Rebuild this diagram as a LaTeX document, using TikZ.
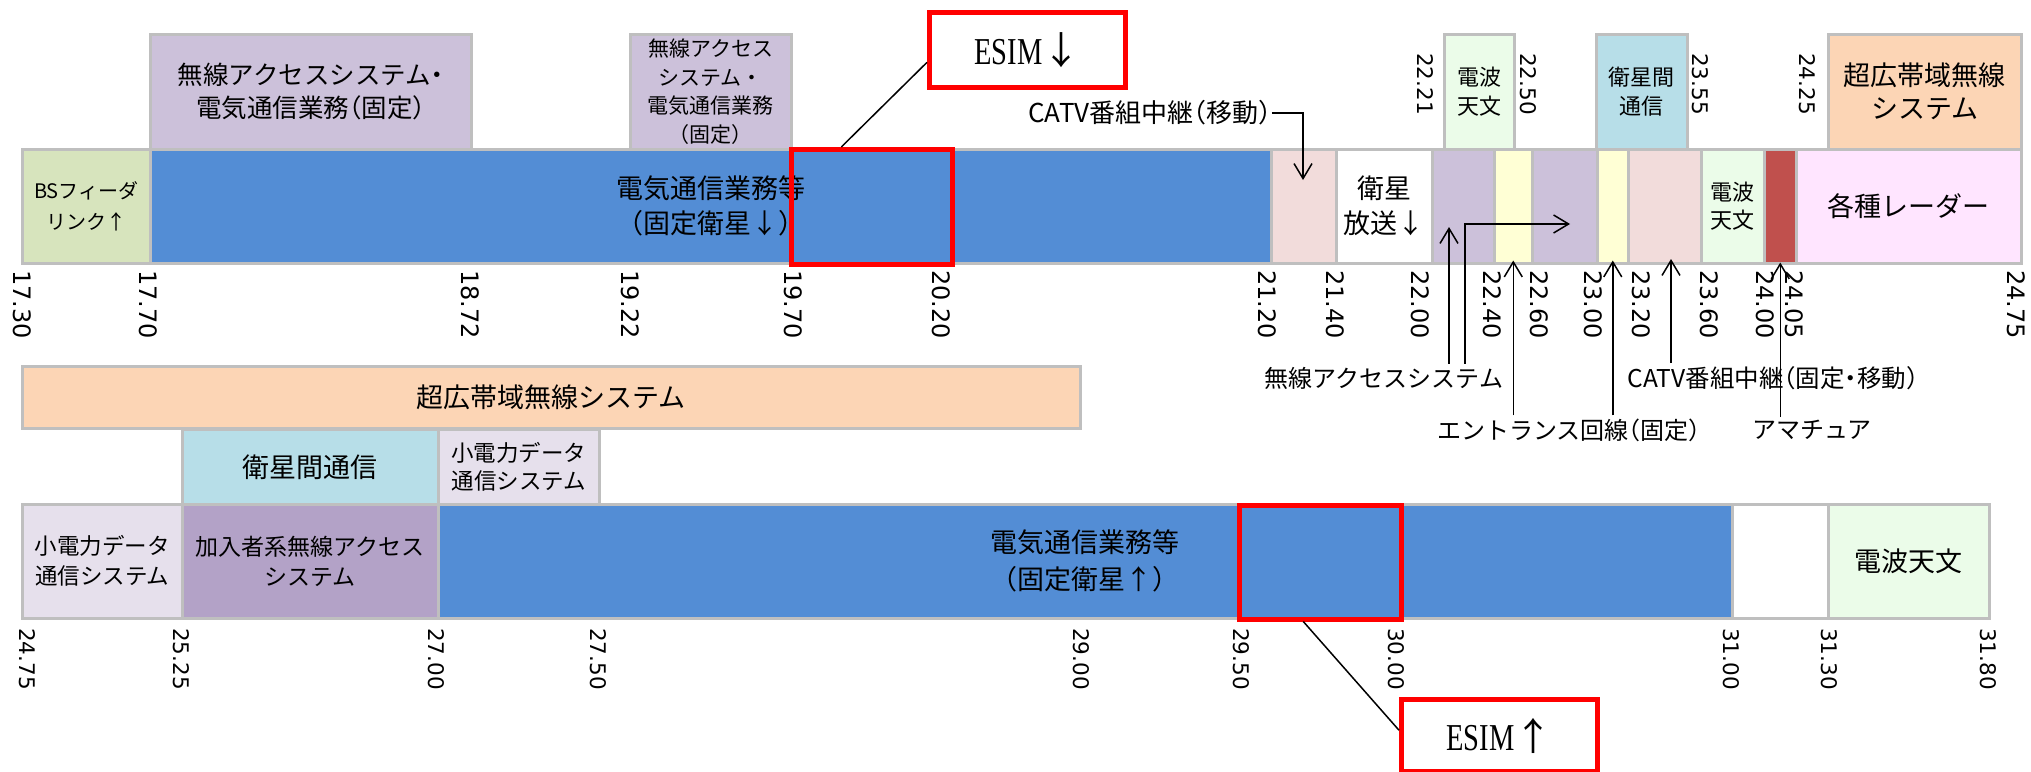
\documentclass[tikz,border=0pt]{standalone}
\usepackage{fontspec}
\setmainfont{Noto Sans CJK JP}
\newfontfamily\notefont[RawFeature=+halt]{Noto Sans CJK JP}
\newfontfamily\numfont{DejaVu Sans}
\newfontfamily\esimfont[FakeStretch=0.75]{Liberation Serif}
\usetikzlibrary{arrows.meta}
\definecolor{bandgray}{RGB}{191,191,191}
\definecolor{bsgreen}{RGB}{215,228,189}
\definecolor{wapurple}{RGB}{204,193,218}
\definecolor{telblue}{RGB}{83,141,213}
\definecolor{catvpink}{RGB}{242,220,219}
\definecolor{entyellow}{RGB}{255,255,213}
\definecolor{rastro}{RGB}{235,252,233}
\definecolor{amred}{RGB}{192,80,77}
\definecolor{radarpink}{RGB}{255,229,255}
\definecolor{islblue}{RGB}{183,222,232}
\definecolor{uwborange}{RGB}{252,213,181}
\definecolor{sdcgray}{RGB}{230,224,236}
\definecolor{fwapurple}{RGB}{179,162,199}
\definecolor{esimred}{RGB}{255,0,0}
\tikzstyle{band} = [draw=bandgray, line width=2.5pt, rectangle, anchor=north west,
    inner sep=0pt, align=center, font=\fontsize{27}{35}\selectfont]
\tikzstyle{mid} = [font=\fontsize{22}{29}\selectfont]
\tikzstyle{esim} = [draw=esimred, line width=4.5pt, rectangle, anchor=north west]
\tikzstyle{esimlabel} = [esim, line width=5pt, fill=white,
    font=\esimfont\fontsize{38}{44}\selectfont]
\tikzstyle{freq} = [rotate=-90, anchor=west, inner sep=0pt,
    font=\numfont\fontsize{24}{24}\selectfont]
\tikzstyle{freqsmall} = [freq, font=\numfont\fontsize{21.5}{21.5}\selectfont]
\tikzstyle{note} = [inner ysep=3pt, inner xsep=0pt, font=\notefont\fontsize{24}{28}\selectfont]
\begin{document}
\begin{tikzpicture}[x=1pt, y=-1pt, >={Straight Barb[length=15pt,width=18pt]}]
    \useasboundingbox (0,0) rectangle (2031,771);
    % We start by placing the bands of 17.30--24.75
    \node [band, fill=wapurple, minimum width=321, minimum height=115, font=\notefont\fontsize{25.5}{33}\selectfont] (waup) at (149,33) {無線アクセスシステム・\\電気通信業務（固定）};
    \node [band, fill=wapurple, minimum width=161, minimum height=115, font=\fontsize{21}{28.5}\selectfont] (waupb) at (629,33) {無線アクセス\\システム・\\電気通信業務\\（固定）};
    \node [band, mid, fill=rastro, minimum width=70, minimum height=115] (raup) at (1443,33) {電波\\天文};
    \node [band, mid, fill=islblue, minimum width=91, minimum height=115] (islup) at (1595,33) {衛星間\\通信};
    \node [band, fill=uwborange, minimum width=193, minimum height=115, font=\fontsize{27}{33}\selectfont] (uwbup) at (1827,33) {超広帯域無線\\システム};
    \node [band, fill=bsgreen, minimum width=128, minimum height=114, font=\fontsize{20}{31}\selectfont] (bs) at (21,148) {BSフィーダ\\リンク↑};
    \node [band, fill=telblue, minimum width=1121, minimum height=114] (tel) at (149,148) {電気通信業務等\\（固定衛星↓）};
    \node [band, fill=catvpink, minimum width=65, minimum height=114] (catv) at (1270,148) {};
    \node [band, fill=white, minimum width=96, minimum height=114] (bss) at (1335,148) {衛星\\放送↓};
    \node [band, fill=wapurple, minimum width=62, minimum height=114] (wa) at (1431,148) {};
    \node [band, fill=entyellow, minimum width=38, minimum height=114] (ent) at (1493,148) {};
    \node [band, fill=wapurple, minimum width=65, minimum height=114] (wab) at (1531,148) {};
    \node [band, fill=entyellow, minimum width=31, minimum height=114] (entb) at (1596,148) {};
    \node [band, fill=catvpink, minimum width=73, minimum height=114] (catvb) at (1627,148) {};
    \node [band, mid, fill=rastro, minimum width=63, minimum height=114, font=\fontsize{22}{28}\selectfont] (ra) at (1700,148) {電波\\天文};
    \node [band, fill=amred, minimum width=32, minimum height=114] (am) at (1763,148) {};
    \node [band, fill=radarpink, minimum width=225, minimum height=114] (radar) at (1795,148) {各種レーダー};
    \node [esim, minimum width=161, minimum height=115] (esimdn) at (789,147) {};
    \node [esimlabel, minimum width=196, minimum height=75] (esimdnlbl) at (927,10) {ESIM{\normalfont ↓}};
    \draw [line width=1.5pt] (esimdn.117) -- (esimdnlbl.187);

    % frequencies
    \node [freq] (f1) at (22,270) {17.30};
    \node [freq] (f2) at (148,270) {17.70};
    \node [freq] (f3) at (470,270) {18.72};
    \node [freq] (f4) at (630,270) {19.22};
    \node [freq] (f5) at (793,270) {19.70};
    \node [freq] (f6) at (941,270) {20.20};
    \node [freq] (f7) at (1267,270) {21.20};
    \node [freq] (f8) at (1335,270) {21.40};
    \node [freq] (f9) at (1420,270) {22.00};
    \node [freq] (f10) at (1492,270) {22.40};
    \node [freq] (f11) at (1539,270) {22.60};
    \node [freq] (f12) at (1593,270) {23.00};
    \node [freq] (f13) at (1641,270) {23.20};
    \node [freq] (f14) at (1709,270) {23.60};
    \node [freq] (f15) at (1765,270) {24.00};
    \node [freq] (f16) at (1794,270) {24.05};
    \node [freq] (f17) at (2016,270) {24.75};
    \node [freqsmall] (u1) at (1425,53) {22.21};
    \node [freqsmall] (u2) at (1528,53) {22.50};
    \node [freqsmall] (u3) at (1700,53) {23.55};
    \node [freqsmall] (u4) at (1807,53) {24.25};

    % notes and their arrows
    \node [note, font=\notefont\fontsize{26}{28}\selectfont] (catvmtxt) at (1150,113) {CATV番組中継（移動）};
    \node [note] (watxt) at (1384,378) {無線アクセスシステム};
    \node [note, font=\notefont\fontsize{24.5}{28}\selectfont] (catvtxt) at (1773,378) {CATV番組中継（固定・移動）};
    \node [note] (enttxt) at (1569,430) {エントランス回線（固定）};
    \node [note] (amtxt) at (1812,430) {アマチュア};
    \coordinate (catvmtip) at (1303,180);
    \coordinate (watip) at (1449,227);
    \coordinate (watipb) at (1570,224);
    \coordinate (wacorner) at (1465,224);
    \coordinate (catvtip) at (1671,259);
    \draw [->, line width=1.5pt] (catvmtxt.east) -| (catvmtip);
    \draw [->, line width=1.5pt] (watip |- watxt.north) -- (watip);
    \draw [->, line width=1.5pt] (wacorner |- watxt.north) |- (watipb);
    \draw [->, line width=1.5pt] (ent.south |- enttxt.north) -- ([yshift=4pt]ent.south);
    \draw [->, line width=1.5pt] (entb.south |- enttxt.north) -- ([yshift=4pt]entb.south);
    \draw [->, line width=1.5pt] (catvtip |- catvtxt.north) -- (catvtip);
    \draw [->, line width=1.5pt] (am.south |- amtxt.north) -- ([yshift=2pt]am.south);

    % bands of 24.75--31.80
    \node [band, fill=uwborange, minimum width=1058, minimum height=62] (uwb) at (21,365) {超広帯域無線システム};
    \node [band, fill=islblue, minimum width=256, minimum height=75] (isl) at (181,428) {衛星間通信};
    \node [band, fill=sdcgray, minimum width=161, minimum height=75, font=\fontsize{22.5}{28}\selectfont] (sdcup) at (437,428) {小電力データ\\通信システム};
    \node [band, fill=sdcgray, minimum width=160, minimum height=114, font=\fontsize{22.5}{30}\selectfont] (sdc) at (21,503) {小電力データ\\通信システム};
    \node [band, fill=fwapurple, minimum width=256, minimum height=114, font=\fontsize{23}{30}\selectfont] (fwa) at (181,503) {加入者系無線アクセス\\システム};
    \node [band, fill=telblue, minimum width=1294, minimum height=114, font=\fontsize{27}{37}\selectfont] (telup) at (437,503) {電気通信業務等\\（固定衛星↑）};
    \node [band, fill=white, minimum width=96, minimum height=114] (blank) at (1731,503) {};
    \node [band, fill=rastro, minimum width=161, minimum height=114] (raup2) at (1827,503) {電波天文};
    \node [esim, minimum width=162, minimum height=114] (esimup) at (1237,503) {};
    \node [esimlabel, minimum width=196, minimum height=72] (esimuplbl) at (1399,697) {ESIM{\normalfont ↑}};
    \draw [line width=1.5pt] (esimup.254) -- (esimuplbl.177);

    % frequencies
    \node [freqsmall] (g1) at (27,628) {24.75};
    \node [freqsmall] (g2) at (181,628) {25.25};
    \node [freqsmall] (g3) at (436,628) {27.00};
    \node [freqsmall] (g4) at (598,628) {27.50};
    \node [freqsmall] (g5) at (1081,628) {29.00};
    \node [freqsmall] (g6) at (1241,628) {29.50};
    \node [freqsmall] (g7) at (1396,628) {30.00};
    \node [freqsmall] (g8) at (1731,628) {31.00};
    \node [freqsmall] (g9) at (1829,628) {31.30};
    \node [freqsmall] (g10) at (1988,628) {31.80};
\end{tikzpicture}
\end{document}
